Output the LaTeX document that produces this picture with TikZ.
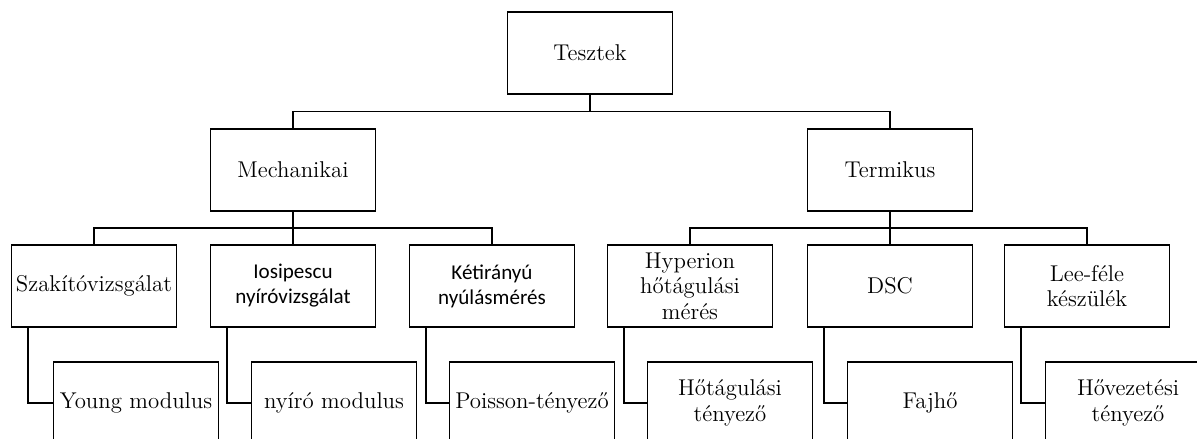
\documentclass[tikz,border=0pt]{standalone}
\usepackage{fontspec}
\newfontfamily\carlito{Carlito}
\usetikzlibrary{calc}
\tikzset{doboz/.style={draw,line width=1.1pt,minimum width=3.3cm,minimum height=1.64cm,inner sep=1pt,align=center,font=\fontsize{13}{14.5}\selectfont},
    sans/.style={font=\carlito\fontsize{12}{14.2}\selectfont}}
\begin{document}
\begin{tikzpicture}[x=0.02cm,y=-0.02cm,line width=1.1pt]
        \useasboundingbox(0,0)rectangle(1197,439);
        \node[doboz](T)at(590,53){Tesztek};
        \node[doboz](M)at(293,170){Mechanikai};
        \node[doboz](Th)at(890,170){Termikus};
        \node[doboz](S)at(94,286){Szakítóvizsgálat};
        \node[doboz,sans](I)at(293,286){Iosipescu\\nyíróvizsgálat};
        \node[doboz,sans](K)at(492,286){Kétirányú\\nyúlásmérés};
        \node[doboz](H)at(690,286){Hyperion\\hőtágulási\\mérés};
        \node[doboz](D)at(890,286){DSC};
        \node[doboz](L)at(1087,286){Lee-féle\\készülék};
        \node[doboz](Y)at(136,403){Young modulus};
        \node[doboz](N)at(334,403){nyíró modulus};
        \node[doboz](P)at(532,403){Poisson-tényező};
        \node[doboz](Ht)at(730,403){Hőtágulási\\tényező};
        \node[doboz](F)at(930,403){Fajhő};
        \node[doboz](Hv)at(1128,403){Hővezetési\\tényező};
        \coordinate(t1)at($(T.south)!.5!(M.north)$);
        \coordinate(m1)at($(M.south)!.5!(I.north)$);
        \coordinate(h1)at($(Th.south)!.5!(D.north)$);
        \draw(T.south)--(T.south|-t1);
        \draw(M.north)|-(t1)-|(Th.north);
        \draw(M.south)--(I.north);
        \draw(S.north)|-(m1)-|(K.north);
        \draw(Th.south)--(D.north);
        \draw(H.north)|-(h1)-|(L.north);
        \draw($(S.south west)+(17,0)$)|-(Y.west);
        \draw($(I.south west)+(17,0)$)|-(N.west);
        \draw($(K.south west)+(17,0)$)|-(P.west);
        \draw($(H.south west)+(17,0)$)|-(Ht.west);
        \draw($(D.south west)+(17,0)$)|-(F.west);
        \draw($(L.south west)+(17,0)$)|-(Hv.west);
    \end{tikzpicture}
\end{document}
